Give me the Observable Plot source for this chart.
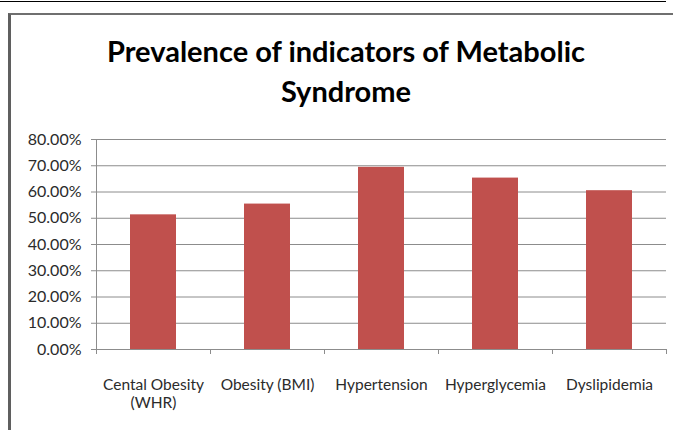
<!DOCTYPE html>
<html>
<head>
<meta charset="utf-8">
<script src="https://cdn.jsdelivr.net/npm/d3@7"></script>
<script src="https://cdn.jsdelivr.net/npm/@observablehq/plot@0.6"></script>
<style>
  html, body { margin: 0; padding: 0; background: #fff; }
  #page { position: relative; width: 673px; height: 430px; overflow: hidden; font-family: Lato, "Open Sans", sans-serif; }
  #topline { position: absolute; left: 0; top: 1px; width: 666px; height: 1px; background: #000; }
  #frame { position: absolute; left: 8px; top: 13px; width: 700px; height: 500px; border-left: 3px solid #5f5f5f; border-top: 2px solid #6f6f6f; box-sizing: border-box; }
  #title { position: absolute; left: 0; width: 692px; top: 31px; text-align: center; font-weight: bold; font-size: 29px; line-height: 40px; color: #000; white-space: nowrap; }
  #chart { position: absolute; left: 0; top: 0; }
</style>
</head>
<body>
<div id="page">
  <div id="topline"></div>
  <div id="frame"></div>
  <div id="title">Prevalence of indicators of Metabolic<br>Syndrome</div>
  <div id="chart"></div>
</div>
<script>
const categories = ["Cental Obesity (WHR)", "Obesity (BMI)", "Hypertension", "Hyperglycemia", "Dyslipidemia"];
const tickLabels = ["Cental Obesity\n(WHR)", "Obesity (BMI)", "Hypertension", "Hyperglycemia", "Dyslipidemia"];
const values = [0.513, 0.554, 0.694, 0.653, 0.605];
const yTicks = [0, 0.1, 0.2, 0.3, 0.4, 0.5, 0.6, 0.7, 0.8];

const data = categories.map((c, i) => ({category: c, label: tickLabels[i], value: values[i]}));

const W = 673, H = 430;
const mL = 96, mR = 7, mT = 139, mB = 81;
const step = (W - mL - mR) / categories.length;
const grid = "#8c8c8c";
const textColor = "#2b2b2b";

const plot = Plot.plot({
  width: W,
  height: H,
  marginLeft: mL,
  marginRight: mR,
  marginTop: mT,
  marginBottom: mB,
  style: {background: "transparent", fontFamily: "Lato, 'Open Sans', sans-serif"},
  x: {domain: categories, paddingInner: 0.6, paddingOuter: 0.3, axis: null},
  y: {domain: [0, 0.8], axis: null},
  marks: [
    Plot.ruleY(yTicks, {y: d => d, stroke: grid, strokeWidth: 1, insetLeft: -5}),
    Plot.ruleX([categories[0]], {x: d => d, dx: -step / 2, y1: 0, y2: 0.8, stroke: grid}),
    Plot.ruleX(categories, {x: d => d, dx: -step / 2, y1: 0, y2: 0, insetBottom: -5, stroke: grid}),
    Plot.ruleX([categories[categories.length - 1]], {x: d => d, dx: step / 2, y1: 0, y2: 0, insetBottom: -5, stroke: grid}),
    Plot.barY(data, {x: "category", y: "value", fill: "#C0504D"}),
    Plot.axisY(yTicks, {label: null, tickSize: 0, tickPadding: 15, tickFormat: d3.format(".2%"), fontSize: 16, fill: textColor}),
    Plot.text(data, {x: "category", y: () => 0, text: "label", dy: 28, lineAnchor: "top", lineHeight: 1.15, fontSize: 15.5, fill: textColor})
  ]
});
document.getElementById("chart").appendChild(plot);
</script>
</body>
</html>
